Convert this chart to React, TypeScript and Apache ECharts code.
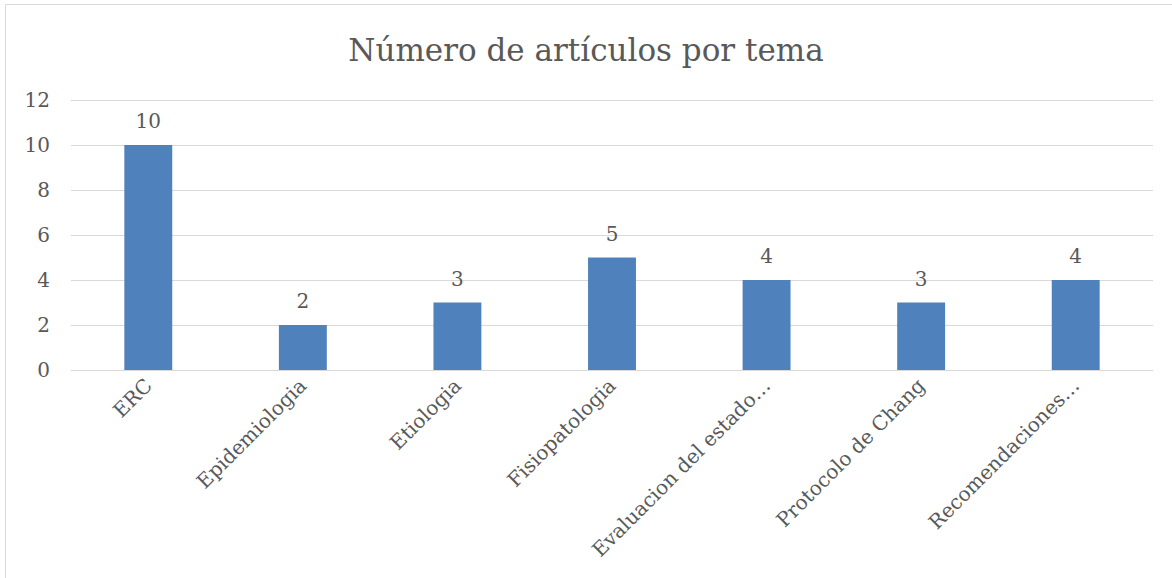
import React, { useEffect, useRef } from "react";
import * as echarts from "echarts";

const categories = [
  "ERC",
  "Epidemiologia",
  "Etiologia",
  "Fisiopatologia",
  "Evaluacion del estado…",
  "Protocolo de Chang",
  "Recomendaciones…",
];
const values = [10, 2, 3, 5, 4, 3, 4];
const titleText = "Número de artículos por tema";

const FONT = "'DejaVu Serif', 'Liberation Serif', serif";
const TXT = "#595959";

export default function App() {
  const ref = useRef<HTMLDivElement>(null);
  useEffect(() => {
    document.body.style.margin = "0";
    const chart = echarts.init(ref.current!, null, { renderer: "svg" });
    chart.setOption({
      animation: false,
      backgroundColor: "#ffffff",
      textStyle: { fontFamily: FONT },
      title: {
        text: titleText,
        left: "center",
        top: 29,
        textStyle: { fontFamily: FONT, fontSize: 31, fontWeight: "normal", color: TXT },
      },
      graphic: [
        {
          type: "rect",
          shape: { x: 5.5, y: 4.5, width: 1200, height: 600 },
          style: { fill: "none", stroke: "#D9D9D9", lineWidth: 1 },
          silent: true,
        },
      ],
      grid: { left: 71, right: 19, top: 100, bottom: 208, containLabel: false },
      xAxis: {
        type: "category",
        data: categories,
        axisLine: { lineStyle: { color: "#D9D9D9" } },
        axisTick: { show: false },
        axisLabel: {
          rotate: 45,
          interval: 0,
          color: TXT,
          fontFamily: FONT,
          fontSize: 20,
          margin: 12,
        },
      },
      yAxis: {
        type: "value",
        min: 0,
        max: 12,
        interval: 2,
        axisLine: { show: false },
        axisTick: { show: false },
        splitLine: { lineStyle: { color: "#D9D9D9" } },
        axisLabel: { color: TXT, fontFamily: FONT, fontSize: 20, margin: 21 },
      },
      series: [
        {
          type: "bar",
          data: values,
          barWidth: "31%",
          itemStyle: { color: "#4F81BD" },
          label: {
            show: true,
            position: "top",
            distance: 14,
            color: TXT,
            fontFamily: FONT,
            fontSize: 20,
          },
        },
      ],
    });
    return () => chart.dispose();
  }, []);
  return <div ref={ref} style={{ width: 1172, height: 578 }} />;
}
